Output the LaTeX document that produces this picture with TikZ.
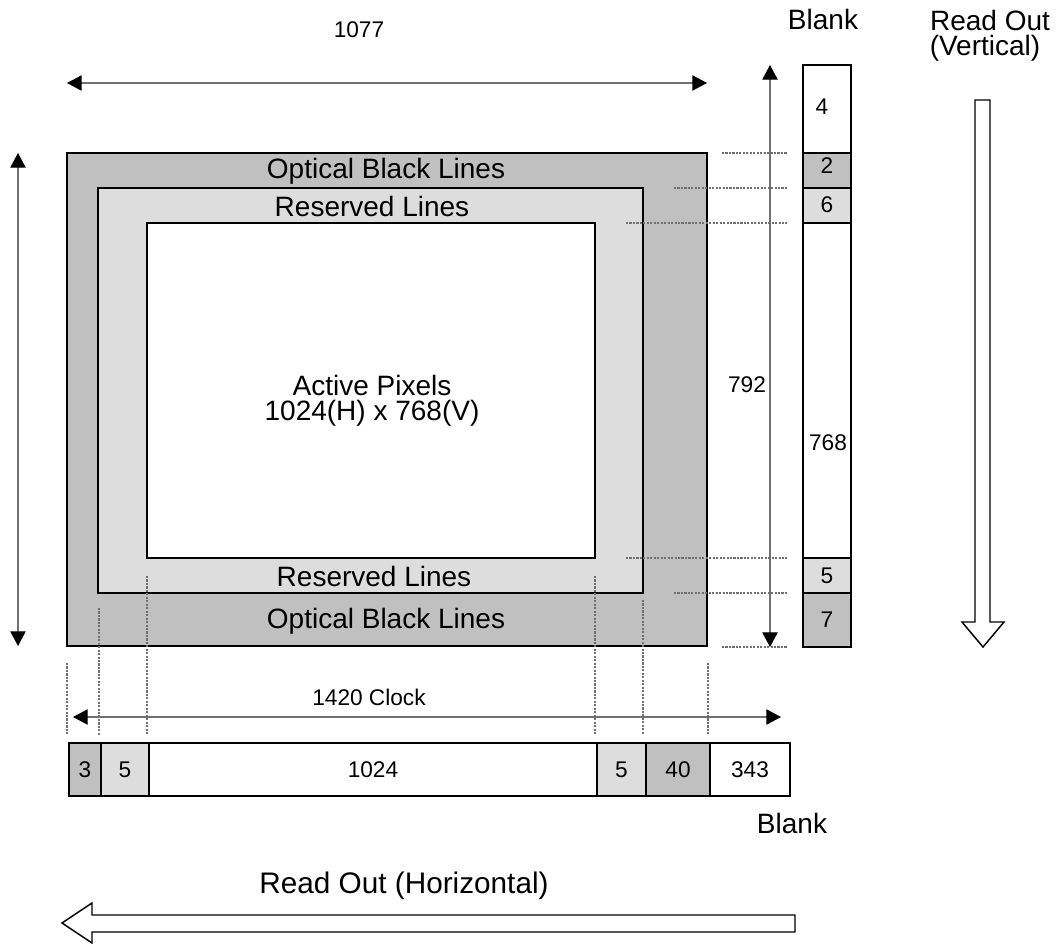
\documentclass[tikz,border=0pt]{standalone}
\usepackage{fontspec}
\setmainfont{Liberation Sans}
\usetikzlibrary{arrows.meta,fit}
\definecolor{obgray}{HTML}{C0C0C0}
\definecolor{rlgray}{HTML}{DDDDDD}
\definecolor{dimgray}{HTML}{707070}
\tikzset{
  box/.style={draw=black, line width=1.4pt, inner sep=0pt},
  obbox/.style={box, fill=obgray},
  rlbox/.style={box, fill=rlgray},
  whbox/.style={box, fill=white},
  big/.style={font=\fontsize{21}{24}\selectfont, inner sep=0pt},
  small/.style={font=\fontsize{17}{20}\selectfont, inner sep=0pt},
  dim/.style={draw=dimgray, line width=0.8pt, {Triangle[length=11pt,width=11.5pt,color=black]}-{Triangle[length=11pt,width=11.5pt,color=black]}},
  guide/.style={draw=dimgray, line width=0.8pt, dash pattern=on 1.6pt off 1pt},
  hollow/.style={draw=black, line width=1.1pt, fill=white},
}
\begin{document}
\begin{tikzpicture}[x=0.75pt,y=-0.75pt]
\useasboundingbox (0,0) rectangle (1060,943);
% main sensor
\node[obbox, fit={(67,153) (707,646)}] (outer) {};
\node[rlbox, fit={(98,188) (643,593)}] (middle) {};
\node[whbox, fit={(147,223) (595,558)}] (inner) {};
\node[big] (obtop) at (386,171) {Optical Black Lines};
\node[big] (rltop) at (372,206) {Reserved Lines};
\node[big] (act1) at (372,385) {Active Pixels};
\node[big] (act2) at (372,413) {1024(H) x 768(V)};
\node[big] (rlbot) at (374,576) {Reserved Lines};
\node[big] (obbot) at (386,621) {Optical Black Lines};
% top dimension
\coordinate (t1) at (67,83); \coordinate (t2) at (707,83);
\draw[dim] (t1) -- (t2);
\node[small] (l1077) at (359,30) {1077};
% left dimension
\coordinate (l1) at (18,153); \coordinate (l2) at (18,646);
\draw[dim] (l1) -- (l2);
% right dimension
\coordinate (r1) at (770,65); \coordinate (r2) at (770,647);
\draw[dim] (r1) -- (r2);
\node[small] (l792) at (747,385) {792};
% right guides
\coordinate (g1a) at (722,153); \coordinate (g1b) at (787,153);
\coordinate (g2a) at (674,188); \coordinate (g2b) at (787,188);
\coordinate (g3a) at (626,223); \coordinate (g3b) at (787,223);
\coordinate (g4a) at (626,558); \coordinate (g4b) at (787,558);
\coordinate (g5a) at (674,593); \coordinate (g5b) at (787,593);
\coordinate (g6a) at (722,647); \coordinate (g6b) at (787,647);
\foreach \i in {1,...,6} {\draw[guide] (g\i a) -- (g\i b);}
% right column
\node[whbox, fit={(803,65) (851,153)}] (c4) {};
\node[obbox, fit={(803,153) (851,188)}] (c2) {};
\node[rlbox, fit={(803,188) (851,223)}] (c6) {};
\node[whbox, fit={(803,223) (851,558)}] (c768) {};
\node[rlbox, fit={(803,558) (851,593)}] (c5) {};
\node[obbox, fit={(803,593) (851,647)}] (c7) {};
\node[small] at (822,107) {4};
\node[small] at (827,166) {2};
\node[small] at (827,205) {6};
\node[small] at (828,443) {768};
\node[small] at (827,576) {5};
\node[small] at (827,620) {7};
\node[big] (blanktop) at (823,19) {Blank};
\node[big] (ro1) at (990,20) {Read Out};
\node[big] (ro2) at (985,48) {(Vertical)};
% vertical read-out arrow
\draw[hollow] (975,100) -- (990,100) -- (990,622) -- (1004,622) -- (983,647) -- (962,622) -- (975,622) -- cycle;
% bottom guides
\coordinate (b1a) at (67,663); \coordinate (b1b) at (67,735);
\coordinate (b2a) at (99,608); \coordinate (b2b) at (99,735);
\coordinate (b3a) at (147,576); \coordinate (b3b) at (147,735);
\coordinate (b4a) at (595,576); \coordinate (b4b) at (595,735);
\coordinate (b5a) at (643,600); \coordinate (b5b) at (643,735);
\coordinate (b6a) at (708,663); \coordinate (b6b) at (708,735);
\foreach \i in {1,...,6} {\draw[guide] (b\i a) -- (b\i b);}
% clock dimension
\coordinate (h1) at (73,717); \coordinate (h2) at (781,717);
\draw[dim] (h1) -- (h2);
\node[small] (clk) at (369,697) {1420 Clock};
% bottom bar
\node[obbox, fit={(69,743) (101,796)}] (h3) {};
\node[rlbox, fit={(101,743) (149,796)}] (h5a) {};
\node[whbox, fit={(149,743) (597,796)}] (h1024) {};
\node[rlbox, fit={(597,743) (646,796)}] (h5b) {};
\node[obbox, fit={(646,743) (710,796)}] (h40) {};
\node[whbox, fit={(710,743) (790,796)}] (h343) {};
\node[small] at (h3) {3};
\node[small] at (h5a) {5};
\node[small] at (h1024) {1024};
\node[small] at (h5b) {5};
\node[small] at (h40) {40};
\node[small] at (h343) {343};
\node[big] (blankbot) at (792,823) {Blank};
\node[big, font=\fontsize{22.3}{26}\selectfont] (roh) at (404,886) {Read Out (Horizontal)};
% horizontal read-out arrow
\draw[hollow] (795,915) -- (92,915) -- (92,903) -- (62,923) -- (92,943) -- (92,932) -- (795,932) -- cycle;
\end{tikzpicture}
\end{document}
